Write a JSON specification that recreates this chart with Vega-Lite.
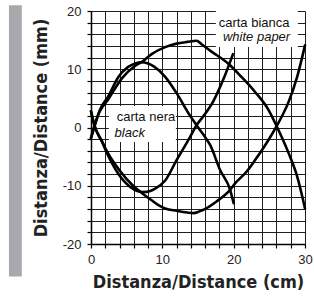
{
  "$schema": "https://vega.github.io/schema/vega-lite/v6.json",
  "width": 214,
  "height": 233,
  "autosize": "none",
  "padding": {"left": 91, "top": 11, "right": 9, "bottom": 57},
  "background": "white",
  "config": {"view": {"stroke": null}},
  "datasets": {
    "bar": [{"x": -11.5, "x2": -9.7, "y": 21.0, "y2": -25.6}],
    "boxes": [
      {"x": 2.5, "x2": 11.9, "y": -2.5, "y2": 3.7},
      {"x": 17.5, "x2": 29.0, "y": 13.8, "y2": 20.0}
    ],
    "labels": [
      {"x": 3.6, "y": 1.8, "t": "carta nera", "st": "n"},
      {"x": 3.3, "y": -0.9, "t": "black", "st": "i"},
      {"x": 17.9, "y": 18.0, "t": "carta bianca", "st": "n"},
      {"x": 18.5, "y": 15.6, "t": "white paper", "st": "i"}
    ],
    "curves": [
      {"s": "bu", "i": 0, "x": 0, "y": -1.8},
      {"s": "bu", "i": 1, "x": 0.5, "y": 0.3},
      {"s": "bu", "i": 2, "x": 1.2, "y": 2.9},
      {"s": "bu", "i": 3, "x": 2.4, "y": 5.3},
      {"s": "bu", "i": 4, "x": 3.8, "y": 8.6},
      {"s": "bu", "i": 5, "x": 5.2, "y": 10.4},
      {"s": "bu", "i": 6, "x": 6.2, "y": 11.0},
      {"s": "bu", "i": 7, "x": 7.0, "y": 11.2},
      {"s": "bu", "i": 8, "x": 8.0, "y": 11.0},
      {"s": "bu", "i": 9, "x": 8.8, "y": 10.5},
      {"s": "bu", "i": 10, "x": 10.4, "y": 8.7},
      {"s": "bu", "i": 11, "x": 12.0, "y": 5.9},
      {"s": "bu", "i": 12, "x": 13.9, "y": 2.0},
      {"s": "bu", "i": 13, "x": 14.8, "y": 0.4},
      {"s": "bu", "i": 14, "x": 15.8, "y": -1.3},
      {"s": "bu", "i": 15, "x": 16.7, "y": -3.0},
      {"s": "bu", "i": 16, "x": 18.1, "y": -7.3},
      {"s": "bu", "i": 17, "x": 19.5, "y": -10.7},
      {"s": "bu", "i": 18, "x": 20.0, "y": -13.0},
      {"s": "wu", "i": 0, "x": 0, "y": -1.8},
      {"s": "wu", "i": 1, "x": 0.5, "y": 0.3},
      {"s": "wu", "i": 2, "x": 1.2, "y": 2.7},
      {"s": "wu", "i": 3, "x": 2.4, "y": 4.8},
      {"s": "wu", "i": 4, "x": 4.3, "y": 8.4},
      {"s": "wu", "i": 5, "x": 6.2, "y": 10.6},
      {"s": "wu", "i": 6, "x": 7.3, "y": 11.4},
      {"s": "wu", "i": 7, "x": 8.5, "y": 12.6},
      {"s": "wu", "i": 8, "x": 10.4, "y": 13.8},
      {"s": "wu", "i": 9, "x": 12.0, "y": 14.4},
      {"s": "wu", "i": 10, "x": 13.5, "y": 14.7},
      {"s": "wu", "i": 11, "x": 14.8, "y": 14.9},
      {"s": "wu", "i": 12, "x": 15.5, "y": 14.3},
      {"s": "wu", "i": 13, "x": 16.7, "y": 13.2},
      {"s": "wu", "i": 14, "x": 19.3, "y": 10.9},
      {"s": "wu", "i": 15, "x": 21.0, "y": 8.8},
      {"s": "wu", "i": 16, "x": 23.0, "y": 6.1},
      {"s": "wu", "i": 17, "x": 24.9, "y": 3.0},
      {"s": "wu", "i": 18, "x": 26.0, "y": 0.3},
      {"s": "wu", "i": 19, "x": 27.7, "y": -4.4},
      {"s": "wu", "i": 20, "x": 28.9, "y": -8.4},
      {"s": "wu", "i": 21, "x": 30.0, "y": -13.9},
      {"s": "bl", "i": 0, "x": 0, "y": 2.8},
      {"s": "bl", "i": 1, "x": 0.5, "y": 0.3},
      {"s": "bl", "i": 2, "x": 1.6, "y": -2.6},
      {"s": "bl", "i": 3, "x": 2.2, "y": -4.3},
      {"s": "bl", "i": 4, "x": 3.8, "y": -7.9},
      {"s": "bl", "i": 5, "x": 5.5, "y": -10.2},
      {"s": "bl", "i": 6, "x": 6.5, "y": -10.9},
      {"s": "bl", "i": 7, "x": 7.3, "y": -11.1},
      {"s": "bl", "i": 8, "x": 8.3, "y": -10.9},
      {"s": "bl", "i": 9, "x": 9.0, "y": -10.5},
      {"s": "bl", "i": 10, "x": 10.4, "y": -9.1},
      {"s": "bl", "i": 11, "x": 12.0, "y": -5.6},
      {"s": "bl", "i": 12, "x": 13.9, "y": -1.6},
      {"s": "bl", "i": 13, "x": 14.8, "y": 0.4},
      {"s": "bl", "i": 14, "x": 15.8, "y": 2.0},
      {"s": "bl", "i": 15, "x": 17.1, "y": 4.4},
      {"s": "bl", "i": 16, "x": 18.6, "y": 8.4},
      {"s": "bl", "i": 17, "x": 19.9, "y": 12.6},
      {"s": "wl", "i": 0, "x": 0, "y": 2.8},
      {"s": "wl", "i": 1, "x": 0.5, "y": 0.3},
      {"s": "wl", "i": 2, "x": 1.6, "y": -2.5},
      {"s": "wl", "i": 3, "x": 2.2, "y": -4.0},
      {"s": "wl", "i": 4, "x": 4.1, "y": -7.5},
      {"s": "wl", "i": 5, "x": 5.9, "y": -10.0},
      {"s": "wl", "i": 6, "x": 7.3, "y": -11.4},
      {"s": "wl", "i": 7, "x": 8.5, "y": -12.5},
      {"s": "wl", "i": 8, "x": 9.7, "y": -13.5},
      {"s": "wl", "i": 9, "x": 10.4, "y": -13.9},
      {"s": "wl", "i": 10, "x": 12.0, "y": -14.3},
      {"s": "wl", "i": 11, "x": 13.5, "y": -14.6},
      {"s": "wl", "i": 12, "x": 14.4, "y": -14.7},
      {"s": "wl", "i": 13, "x": 15.2, "y": -14.4},
      {"s": "wl", "i": 14, "x": 15.8, "y": -14.1},
      {"s": "wl", "i": 15, "x": 17.6, "y": -12.7},
      {"s": "wl", "i": 16, "x": 19.5, "y": -10.7},
      {"s": "wl", "i": 17, "x": 20.2, "y": -9.6},
      {"s": "wl", "i": 18, "x": 21.8, "y": -7.6},
      {"s": "wl", "i": 19, "x": 23.0, "y": -5.6},
      {"s": "wl", "i": 20, "x": 24.9, "y": -2.1},
      {"s": "wl", "i": 21, "x": 26.0, "y": 0.2},
      {"s": "wl", "i": 22, "x": 27.7, "y": 4.4},
      {"s": "wl", "i": 23, "x": 28.9, "y": 8.7},
      {"s": "wl", "i": 24, "x": 30.0, "y": 14.1}
    ]
  },
  "encoding": {
    "x": {
      "field": "x",
      "type": "quantitative",
      "scale": {"domain": [0, 30], "nice": false, "zero": false},
      "axis": {
        "values": [0, 2, 4, 6, 8, 10, 12, 14, 16, 18, 20, 22, 24, 26, 28, 30],
        "labelExpr": "datum.value % 10 === 0 ? '' + datum.value : ''",
        "title": "Distanza/Distance (cm)",
        "grid": true,
        "gridColor": "#1e1e1e",
        "gridWidth": 1,
        "gridOpacity": 1,
        "domainColor": "#000000",
        "domainWidth": 1.5,
        "tickColor": "#000000",
        "tickSize": 4,
        "tickWidth": 1.2,
        "labelFont": "Liberation Sans",
        "labelFontSize": 13,
        "labelColor": "#222222",
        "labelPadding": 5,
        "labelFlush": false,
        "labelOverlap": false,
        "titleFont": "Liberation Sans Narrow, DejaVu Sans Condensed, sans-serif",
        "titleFontSize": 18,
        "titleFontWeight": "bold",
        "titleColor": "#222222",
        "titlePadding": 7
      }
    },
    "y": {
      "field": "y",
      "type": "quantitative",
      "scale": {"domain": [-20, 20], "nice": false, "zero": false},
      "axis": {
        "values": [-20, -18, -16, -14, -12, -10, -8, -6, -4, -2, 0, 2, 4, 6, 8, 10, 12, 14, 16, 18, 20],
        "labelExpr": "datum.value % 10 === 0 ? '' + datum.value : ''",
        "title": "Distanza/Distance (mm)",
        "grid": true,
        "gridColor": "#1e1e1e",
        "gridWidth": 1,
        "gridOpacity": 1,
        "domainColor": "#000000",
        "domainWidth": 1.5,
        "tickColor": "#000000",
        "tickSize": 4,
        "tickWidth": 1.2,
        "labelFont": "Liberation Sans",
        "labelFontSize": 13,
        "labelColor": "#222222",
        "labelPadding": 6,
        "labelFlush": false,
        "labelOverlap": false,
        "titleFont": "Liberation Sans Narrow, DejaVu Sans Condensed, sans-serif",
        "titleFontSize": 18,
        "titleFontWeight": "bold",
        "titleColor": "#222222",
        "titlePadding": 12
      }
    }
  },
  "layer": [
    {
      "data": {"name": "bar"},
      "mark": {"type": "rect", "color": "#a7a9ac", "clip": false},
      "encoding": {"x2": {"field": "x2"}, "y2": {"field": "y2"}}
    },
    {
      "data": {"name": "boxes"},
      "mark": {"type": "rect", "color": "#ffffff"},
      "encoding": {"x2": {"field": "x2"}, "y2": {"field": "y2"}}
    },
    {
      "data": {"name": "curves"},
      "mark": {"type": "line", "color": "#000000", "strokeWidth": 2.6, "interpolate": "monotone", "strokeCap": "round", "strokeJoin": "round"},
      "encoding": {
        "detail": {"field": "s", "type": "nominal"},
        "order": {"field": "i", "type": "quantitative"}
      }
    },
    {
      "data": {"name": "labels"},
      "transform": [{"filter": "datum.st === 'n'"}],
      "mark": {"type": "text", "align": "left", "baseline": "middle", "font": "Liberation Sans", "fontSize": 13, "color": "#111111"},
      "encoding": {"text": {"field": "t", "type": "nominal"}}
    },
    {
      "data": {"name": "labels"},
      "transform": [{"filter": "datum.st === 'i'"}],
      "mark": {"type": "text", "align": "left", "baseline": "middle", "font": "Liberation Sans", "fontSize": 13, "fontStyle": "italic", "color": "#111111"},
      "encoding": {"text": {"field": "t", "type": "nominal"}}
    }
  ]
}
